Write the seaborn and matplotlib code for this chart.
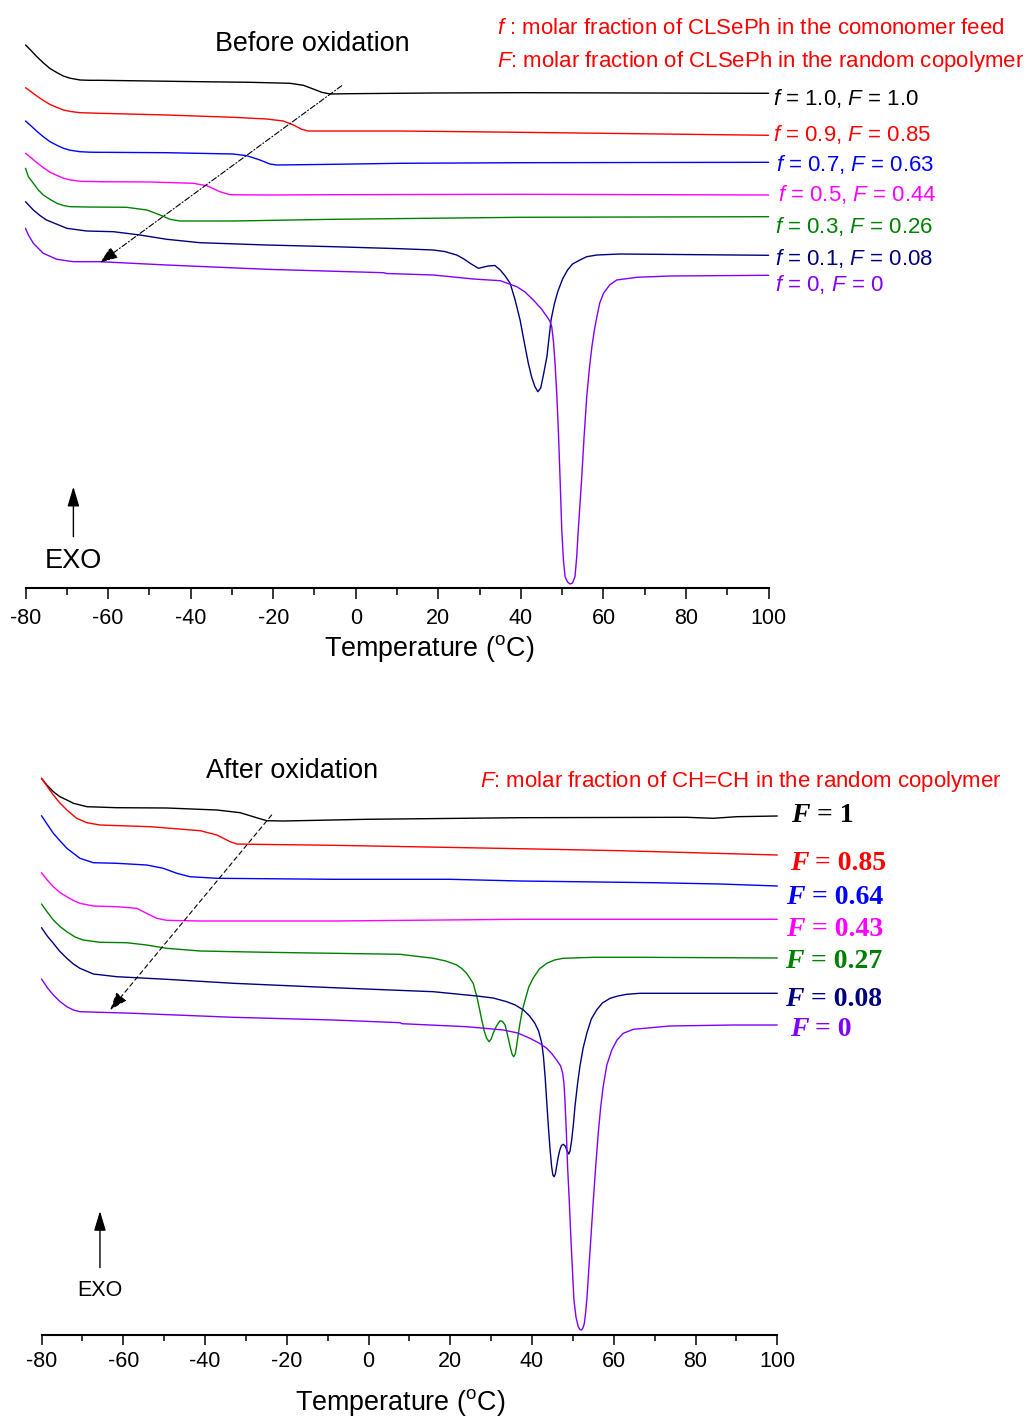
import matplotlib
matplotlib.use("Agg")
import matplotlib.pyplot as plt
import seaborn as sns
from matplotlib.ticker import MultipleLocator

# ---------------- data: Before oxidation (temperature degC, heat flow a.u.) ----------------
bo_T_10 = [-80, -78.8, -77.3, -75.7, -74.1, -72.4, -70.8, -69.2, -66.8, -64.4, -61.95, -49.8, -37.7,
           -25.6, -15.9, -12.7, -10.3, -8.25, -6.2, -1.4, 18.7, 39.8, 100]
bo_Q_10 = [54.5, 54.01, 53.35, 52.72, 52.16, 51.74, 51.39, 51.18, 51.0, 50.97, 50.97, 50.9, 50.83,
           50.77, 50.67, 50.47, 50.1, 49.77, 49.6, 49.63, 49.7, 49.73, 49.67]

bo_T_09 = [-80, -78.8, -77.3, -75.7, -74.1, -72.4, -70.8, -69.2, -66.8, -64.4, -61.95, -45.8, -29.7,
           -21.6, -17.55, -15.1, -13.1, -11.5, -5.4, 10.7, 39.8, 100]
bo_Q_09 = [50.23, 49.88, 49.41, 48.96, 48.56, 48.26, 48.0, 47.86, 47.73, 47.7, 47.67, 47.5, 47.27,
           47.1, 46.9, 46.5, 46.07, 45.9, 45.9, 45.9, 45.77, 45.47]

bo_T_07 = [-80, -78.8, -77.3, -75.7, -74.1, -72.4, -70.8, -69.2, -66.8, -64.4, -61.95, -45.8, -29.7,
           -26.4, -23.2, -20.8, -19.15, -5.4, 10.7, 39.8, 100]
bo_Q_07 = [46.9, 46.47, 45.89, 45.33, 44.84, 44.47, 44.17, 43.98, 43.83, 43.78, 43.77, 43.73, 43.6,
           43.43, 43.0, 42.6, 42.5, 42.57, 42.67, 42.73, 42.77]

bo_T_05 = [-80, -78.8, -77.3, -75.7, -74.1, -72.4, -70.8, -69.2, -66.8, -64.4, -61.95, -49.8, -39.35,
           -36.1, -32.9, -30.5, -21.6, -5.4, 39.8, 100]
bo_Q_05 = [43.67, 43.28, 42.75, 42.24, 41.79, 41.46, 41.18, 41.01, 40.87, 40.85, 40.83, 40.8, 40.67,
           40.43, 39.83, 39.53, 39.5, 39.53, 39.57, 39.5]

bo_T_03 = [-80, -79.3, -78.1, -76.9, -75.7, -74.0, -72.4, -70.8, -69.2, -65.2, -55.5, -50.6, -47.4,
           -45.0, -42.6, -29.7, -5.4, 39.8, 100]
bo_Q_03 = [42.17, 41.33, 40.67, 40.0, 39.5, 39.05, 38.67, 38.45, 38.33, 38.3, 38.27, 38.0, 37.5,
           37.07, 36.9, 36.9, 37.07, 37.27, 37.33]

bo_T_01 = [-80, -78.1, -76.5, -74.9, -70.0, -65.2, -58.7, -52.3, -45.8, -37.7, -21.6, -5.4, 10.7, 18.8,
           21.5, 24.45, 26.2, 27.7, 29.7, 32.1, 33.7, 35.0, 36.2, 37.4, 38.6, 39.8, 40.8, 41.8, 42.6,
           43.4, 44.1, 44.8, 45.5, 46.3, 47.3, 48.1, 48.9, 50.1, 51.3, 52.5, 54.3, 55.95, 58.4, 64.0, 100]
bo_Q_01 = [38.83, 38.0, 37.45, 37.0, 36.17, 35.9, 35.83, 35.5, 35.07, 34.73, 34.5, 34.33, 34.13, 34.0,
           33.85, 33.5, 33.1, 32.67, 32.17, 32.4, 32.45, 32.0, 31.4, 30.67, 29.0, 27.0, 24.8, 22.67, 21.3,
           20.33, 19.83, 20.2, 21.6, 23.33, 27.0, 28.6, 29.8, 31.1, 32.0, 32.6, 33.0, 33.33, 33.5, 33.6,
           33.47]

bo_T_00 = [-80, -79.3, -78.1, -75.7, -72.4, -68.4, -61.95, -45.8, -21.6, 6.7, 7.5, 18.8, 28.5, 35.0,
           39.0, 41.0, 43.0, 45.0, 46.3, 47.0, 47.47, 47.9, 48.27, 48.7, 49.07, 49.5, 49.9, 50.3, 50.7,
           51.3, 51.9, 52.5, 53.1, 53.5, 53.9, 54.3, 54.7, 55.3, 55.95, 56.6, 57.2, 57.8, 58.4, 59.1,
           60.0, 61.5, 63.2, 68.1, 76.1, 100]
bo_Q_00 = [36.17, 35.5, 34.67, 33.67, 33.07, 32.83, 32.83, 32.5, 32.07, 31.73, 31.65, 31.5, 31.1, 30.93,
           30.33, 29.8, 29.0, 28.1, 27.33, 26.9, 26.33, 24.8, 22.67, 19.5, 16.0, 11.0, 6.0, 3.0, 1.33,
           0.8, 0.6, 0.7, 1.33, 3.2, 6.0, 8.5, 11.0, 15.3, 19.33, 22.2, 24.33, 26.0, 27.33, 28.7,
           29.67, 30.5, 31.0, 31.27, 31.4, 31.47]

# ---------------- data: After oxidation ----------------
ao_T_100 = [-80, -78.7, -77.1, -75.5, -73.8, -72.2, -68.9, -61.6, -49.4, -37.1, -31.4, -27.4, -24.9,
            -20.85, -0.45, 37.05, 77.8, 84.3, 90.05, 100]
ao_Q_100 = [55.67, 55.0, 54.33, 53.83, 53.5, 53.17, 52.83, 52.73, 52.7, 52.5, 52.23, 51.73, 51.43,
            51.4, 51.57, 51.73, 51.77, 51.67, 51.83, 51.9]

ao_T_085 = [-80, -78.6, -77.1, -75.5, -73.8, -71.4, -68.9, -65.7, -53.4, -41.2, -37.1, -33.85, -32.2,
            -28.2, -8.6, 37.05, 61.5, 100]
ao_Q_085 = [55.67, 54.85, 54.0, 53.2, 52.5, 51.67, 51.23, 51.0, 50.83, 50.43, 50.0, 49.33, 49.1,
            49.07, 48.97, 48.63, 48.43, 48.0]

ao_T_064 = [-80, -78.6, -77.1, -75.5, -73.8, -72.2, -70.6, -67.35, -61.6, -54.3, -50.2, -46.9, -43.7,
            -37.1, -8.6, 19.9, 37.05, 69.7, 86.0, 100]
ao_Q_064 = [51.93, 51.07, 50.17, 49.43, 48.67, 48.17, 47.67, 47.23, 47.17, 47.0, 46.67, 46.17, 45.83,
            45.67, 45.57, 45.57, 45.4, 45.23, 45.1, 44.9]

ao_T_043 = [-80, -78.6, -77.1, -75.5, -73.8, -72.2, -70.6, -67.35, -61.6, -56.7, -54.3, -51.8, -49.4,
            -41.2, -8.6, 37.05, 100]
ao_Q_043 = [46.23, 45.5, 44.83, 44.25, 43.83, 43.45, 43.17, 42.9, 42.83, 42.67, 42.17, 41.67, 41.47,
            41.4, 41.4, 41.57, 41.57]

ao_T_027 = [-80, -78.6, -77.1, -75.5, -73.8, -71.8, -69.8, -65.7, -59.2, -54.3, -49.4, -41.2, -24.9,
            -8.6, 7.7, 15.85, 18.9, 21.6, 22.8, 24.0, 25.6, 26.5, 27.1, 27.7, 28.3, 28.9, 29.5, 30.0,
            30.5, 31.3, 32.2, 32.8, 33.4, 34.0, 34.65, 35.1, 35.5, 35.9, 36.2, 36.6, 37.05, 37.6, 38.3,
            39.2, 40.3, 41.8, 43.6, 45.5, 47.6, 55.0, 66.4, 100]
ao_Q_027 = [43.1, 42.3, 41.5, 40.85, 40.33, 39.8, 39.5, 39.27, 39.23, 39.0, 38.67, 38.4, 38.27,
            38.17, 38.07, 37.67, 37.4, 37.0, 36.65, 36.17, 35.17, 33.83, 32.7, 31.5, 30.4, 29.67, 29.33,
            29.6, 30.17, 30.9, 31.43, 31.35, 31.0, 30.0, 28.83, 28.1, 27.83, 28.1, 28.83, 30.0, 31.17,
            32.4, 33.5, 34.8, 35.7, 36.6, 37.17, 37.5, 37.67, 37.77, 37.77, 37.7]

ao_T_008 = [-80, -78.6, -77.1, -75.5, -73.8, -72.2, -70.6, -67.3, -61.6, -49.4, -33.1, -8.6, 15.85,
            26.5, 30.5, 33.8, 35.9, 37.9, 39.4, 40.7, 41.6, 42.4, 42.8, 43.2, 43.6, 44.0, 44.4, 44.8,
            45.1, 45.4, 45.7, 46.0, 46.4, 46.8, 47.2, 47.65, 48.1, 48.5, 49.0, 49.3, 49.7, 50.1, 50.5,
            51.1, 51.7, 52.5, 53.4, 54.5, 55.8, 57.2, 59.1, 61.0, 63.15, 66.4, 100]
ao_Q_008 = [40.73, 39.9, 39.17, 38.35, 37.67, 37.1, 36.67, 36.1, 35.83, 35.57, 35.17, 34.73, 34.33,
            33.9, 33.7, 33.33, 33.0, 32.5, 31.9, 31.17, 30.4, 29.17, 27.8, 25.83, 23.3, 20.83, 18.6, 16.83,
            16.0, 15.83, 16.1, 16.83, 17.8, 18.5, 18.95, 19.07, 18.9, 18.5, 18.1, 18.4, 19.5, 21.0, 22.83,
            25.0, 26.83, 28.7, 30.17, 31.6, 32.5, 33.2, 33.67, 33.9, 34.07, 34.17, 34.17]

ao_T_000 = [-80, -78.6, -77.1, -75.5, -73.8, -72.2, -70.6, -68.0, -65.7, -57.5, -33.1, -8.6, 7.7, 8.2,
            24.0, 33.0, 36.5, 39.5, 41.7, 43.6, 44.9, 46.0, 47.0, 47.5, 47.8, 48.05, 48.4, 48.7, 49.1,
            49.45, 49.85, 50.25, 50.75, 51.3, 51.7, 52.1, 52.45, 52.8, 53.1, 53.4, 53.8, 54.2, 54.6,
            55.0, 55.6, 56.2, 56.8, 57.4, 58.3, 59.5, 60.8, 62.3, 64.8, 73.7, 89.2, 100]
ao_Q_000 = [35.6, 34.75, 34.0, 33.35, 32.83, 32.5, 32.33, 32.3, 32.27, 32.17, 31.77, 31.5, 31.23, 31.13,
            30.83, 30.5, 30.2, 29.67, 29.2, 28.67, 28.1, 27.5, 26.9, 26.17, 25.2, 23.5, 20.2, 16.83, 13.5,
            10.17, 6.8, 3.5, 1.8, 0.83, 0.55, 0.5, 0.7, 1.17, 2.2, 3.5, 6.0, 8.5, 11.0,
            13.5, 17.0, 20.17, 22.8, 24.83, 27.0, 28.5, 29.5, 30.17, 30.57, 30.9, 31.0, 31.0]

colors = ["#000000", "#FF0000", "#0000FF", "#FF00FF", "#008000", "#000080", "#8000FF"]

bo_labels = [r"$\mathit{f}$ = 1.0, $\mathit{F}$ = 1.0", r"$\mathit{f}$ = 0.9, $\mathit{F}$ = 0.85",
             r"$\mathit{f}$ = 0.7, $\mathit{F}$ = 0.63", r"$\mathit{f}$ = 0.5, $\mathit{F}$ = 0.44",
             r"$\mathit{f}$ = 0.3, $\mathit{F}$ = 0.26", r"$\mathit{f}$ = 0.1, $\mathit{F}$ = 0.08",
             r"$\mathit{f}$ = 0, $\mathit{F}$ = 0"]
ao_labels = ["1", "0.85", "0.64", "0.43", "0.27", "0.08", "0"]
x_ticks = [-80, -60, -40, -20, 0, 20, 40, 60, 80, 100]

bo_T = [bo_T_10, bo_T_09, bo_T_07, bo_T_05, bo_T_03, bo_T_01, bo_T_00]
bo_Q = [bo_Q_10, bo_Q_09, bo_Q_07, bo_Q_05, bo_Q_03, bo_Q_01, bo_Q_00]
ao_T = [ao_T_100, ao_T_085, ao_T_064, ao_T_043, ao_T_027, ao_T_008, ao_T_000]
ao_Q = [ao_Q_100, ao_Q_085, ao_Q_064, ao_Q_043, ao_Q_027, ao_Q_008, ao_Q_000]

# ---------------- style ----------------
sns.set_theme(style="white")
plt.rcParams["font.family"] = ["Liberation Sans", "DejaVu Sans"]
plt.rcParams["mathtext.fontset"] = "custom"
plt.rcParams["mathtext.rm"] = "Liberation Sans"
plt.rcParams["mathtext.it"] = "Liberation Sans:italic"
plt.rcParams["mathtext.bf"] = "Liberation Sans:bold"
plt.rcParams["axes.unicode_minus"] = False
plt.rcParams["text.color"] = "black"
plt.rcParams["xtick.color"] = "black"
plt.rcParams["xtick.labelcolor"] = "black"

W, H = 1027, 1416
fig = plt.figure(figsize=(W / 100, H / 100), dpi=100)


def fx(px):
    return px / W


def fy(py):
    return 1 - py / H


def px_axes(left, right, top, bottom):
    return fig.add_axes([fx(left), fy(bottom), (right - left) / W, (bottom - top) / H])


ax1 = px_axes(25.5, 768.6, 20, 588)
ax2 = px_axes(41.5, 777.3, 740, 1335)
ax1.set_ylim(0.2, 57.0)
ax2.set_ylim(0.0, 59.5)

for ax, Ts, Qs in [(ax1, bo_T, bo_Q), (ax2, ao_T, ao_Q)]:
    for T, Q, c in zip(Ts, Qs, colors):
        sns.lineplot(x=T, y=Q, ax=ax, color=c, lw=1.0, estimator=None, sort=False, clip_on=False)
    ax.set_xlim(-80, 100)
    ax.set_xticks(x_ticks)
    ax.xaxis.set_minor_locator(MultipleLocator(10))
    ax.set_yticks([])
    for s in ["left", "right", "top"]:
        ax.spines[s].set_visible(False)
    ax.spines["bottom"].set_linewidth(1.5)
    ax.spines["bottom"].set_color("black")
    ax.set_facecolor("none")
    ax.set_xlabel("")
    ax.set_ylabel("")

ax1.tick_params(axis="x", which="major", direction="out", length=7.9, width=1.1, labelsize=15.5,
                pad=6.5, colors="black", bottom=True)
ax1.tick_params(axis="x", which="minor", direction="out", length=5, width=1.1, bottom=True)
ax2.tick_params(axis="x", which="major", direction="out", length=7.2, width=1.1, labelsize=15.5,
                pad=4, colors="black", bottom=True)
ax2.tick_params(axis="x", which="minor", direction="out", length=4.3, width=1.1, bottom=True)

# axis labels
fig.text(fx(429), fy(649), r"Temperature ($^{\mathrm{o}}$C)", fontsize=19.4, ha="center", va="center")
fig.text(fx(400), fy(1402), r"Temperature ($^{\mathrm{o}}$C)", fontsize=19.4, ha="center", va="center")

# titles
fig.text(fx(312), fy(44), "Before oxidation", fontsize=19.4, ha="center", va="center")
fig.text(fx(292.5), fy(771), "After oxidation", fontsize=19.4, ha="center", va="center")

# red notes
fig.text(fx(497), fy(28), r"$\mathit{f}$ : molar fraction of CLSePh in the comonomer feed",
         fontsize=16, color="#FF0000", ha="left", va="center")
fig.text(fx(497), fy(61), r"$\mathit{F}$: molar fraction of CLSePh in the random copolymer",
         fontsize=16, color="#FF0000", ha="left", va="center")
fig.text(fx(480), fy(781), r"$\mathit{F}$: molar fraction of CH=CH in the random copolymer",
         fontsize=16, color="#FF0000", ha="left", va="center")

# curve labels, top
bo_lab_pos = [(773, 98), (773, 134), (776.5, 165), (778, 194), (775, 226), (775, 259), (775, 284)]
for (x, y), txt, c in zip(bo_lab_pos, bo_labels, colors):
    fig.text(fx(x), fy(y), txt, fontsize=16, color=c, ha="left", va="center")

# curve labels, bottom (Times-like bold)
ao_lab_pos = [(791, 816), (790, 863), (786.5, 897), (786.5, 930), (785, 962), (785, 1000), (790, 1030)]
for (x, y), num, c in zip(ao_lab_pos, ao_labels, colors):
    t1 = fig.text(fx(x), fy(y), "F", fontfamily="Liberation Serif", fontweight="bold",
                  fontstyle="italic", fontsize=20, color=c, ha="left", va="center")
    ax2.annotate(" = " + num, xy=(1, 0.5), xycoords=t1, fontfamily="Liberation Serif",
                 fontweight="bold", fontsize=20, color=c, ha="left", va="center",
                 annotation_clip=False)

# dashed diagonal arrows
ax1.annotate("", xy=(-61.95, 32.73), xytext=(-3.4, 50.43), annotation_clip=False,
             arrowprops=dict(arrowstyle="-|>,head_length=0.55,head_width=0.2", color="black",
                             lw=0.8, linestyle=(0, (5, 2, 1, 2)), shrinkA=0, shrinkB=0,
                             mutation_scale=20))
ax2.annotate("", xy=(-63.2, 32.5), xytext=(-23.7, 52.0), annotation_clip=False,
             arrowprops=dict(arrowstyle="-|>,head_length=0.55,head_width=0.2", color="black",
                             lw=0.8, linestyle=(0, (4, 3)), shrinkA=0, shrinkB=0,
                             mutation_scale=20))

# EXO arrows
ax1.annotate("", xy=(-68.4, 10.33), xytext=(-68.4, 5.33), annotation_clip=False,
             arrowprops=dict(arrowstyle="-|>,head_length=0.6,head_width=0.18", color="black",
                             lw=1.0, shrinkA=0, shrinkB=0, mutation_scale=20))
ax2.annotate("", xy=(-65.7, 12.4), xytext=(-65.7, 6.73), annotation_clip=False,
             arrowprops=dict(arrowstyle="-|>,head_length=0.6,head_width=0.18", color="black",
                             lw=1.0, shrinkA=0, shrinkB=0, mutation_scale=20))
fig.text(fx(73.3), fy(561), "EXO", fontsize=19.5, ha="center", va="center")
fig.text(fx(100), fy(1291), "EXO", fontsize=15.5, ha="center", va="center")

fig.savefig("out.png", dpi=100)
